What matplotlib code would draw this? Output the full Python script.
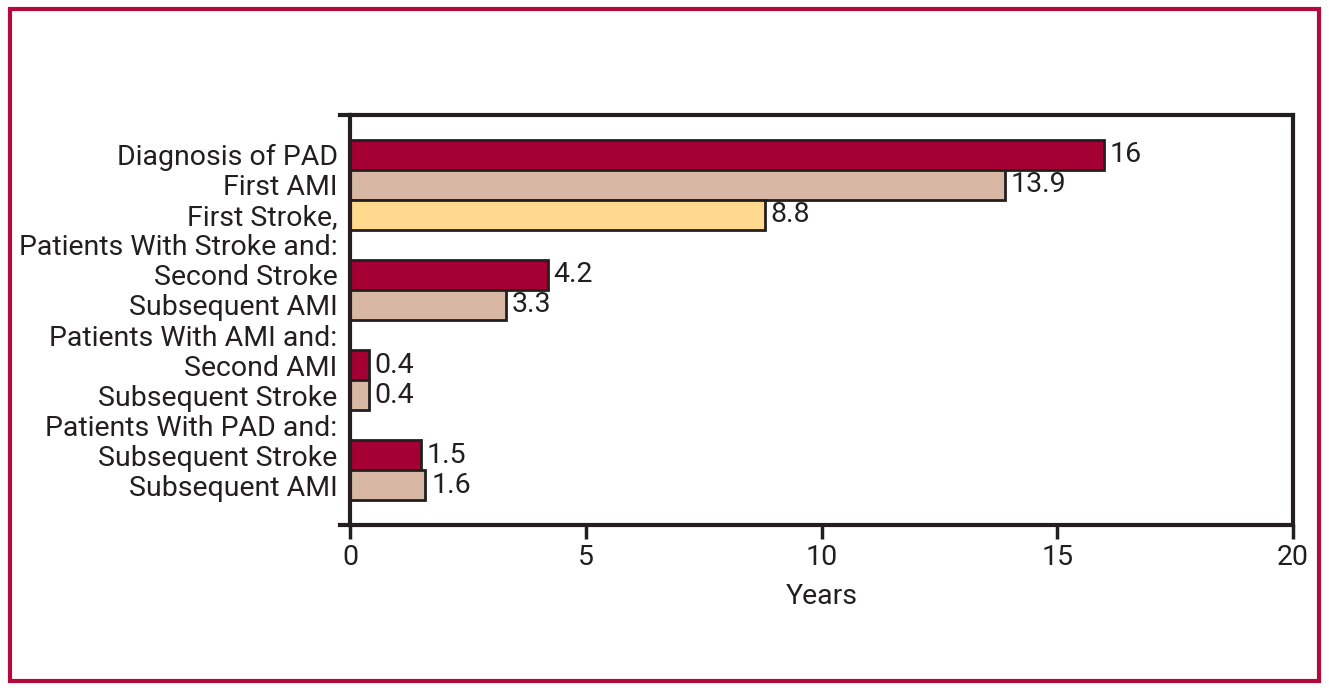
import matplotlib
matplotlib.use("Agg")
import matplotlib.pyplot as plt
from matplotlib.patches import Rectangle
from matplotlib.lines import Line2D

plt.rcParams['font.family'] = ['Roboto', 'DejaVu Sans']

labels = ["Diagnosis of PAD", "First AMI", "First Stroke,",
          "Patients With Stroke and:", "Second Stroke", "Subsequent AMI",
          "Patients With AMI and:", "Second AMI", "Subsequent Stroke",
          "Patients With PAD and:", "Subsequent Stroke", "Subsequent AMI"]
values = [16, 13.9, 8.8, None, 4.2, 3.3, None, 0.4, 0.4, None, 1.5, 1.6]
value_text = ["16", "13.9", "8.8", None, "4.2", "3.3", None, "0.4", "0.4", None, "1.5", "1.6"]
kinds = ["pad", "ami", "stroke", None, "pad", "ami", None, "pad", "ami", None, "pad", "ami"]
colors = {"pad": "#A50034", "ami": "#D8B8A4", "stroke": "#FFD98E"}
xticks = [0, 5, 10, 15, 20]

W, H = 1329, 690
fig = plt.figure(figsize=(W / 100, H / 100), dpi=100)
ax = fig.add_axes([350 / W, 1 - 525 / H, (1293 - 350) / W, (525 - 115) / H])

txtc = "#231F20"
fs = 20.5
for i, (v, k, t) in enumerate(zip(values, kinds, value_text)):
    if v is None:
        continue
    ax.barh(i, v, height=1.0, color=colors[k], edgecolor=txtc, linewidth=2)
    ax.text(v + 0.12, i, t, va="center", ha="left", fontsize=fs, color=txtc)

ax.set_xlim(0, 20)
ax.set_ylim(11 + 1.32, -1.32)
ax.set_yticks(range(len(labels)))
ax.set_yticklabels(labels, fontsize=fs, color=txtc)
ax.tick_params(axis="y", length=0, pad=9)
ax.set_xticks(xticks)
ax.set_xticklabels([str(x) for x in xticks], fontsize=fs, color=txtc)
ax.tick_params(axis="x", length=10, width=2.5, color=txtc, pad=4, direction="out")
ax.set_xlabel("Years", fontsize=fs, color=txtc, labelpad=8)
for s in ax.spines.values():
    s.set_linewidth(3)
    s.set_color(txtc)

# horizontal spines slightly extended to the left
ext = 10 / (1293 - 350)
for yy in (0, 1):
    ax.add_line(Line2D([-ext, 0], [yy, yy], transform=ax.transAxes, color=txtc,
                       linewidth=3, clip_on=False))

fig.patches.append(Rectangle((9.5 / W, 9.5 / H), (1318.5 - 9.5) / W, (681.5 - 9.5) / H,
                             transform=fig.transFigure, fill=False,
                             edgecolor="#B5093B", linewidth=3))

fig.savefig("out.png", dpi=100)
